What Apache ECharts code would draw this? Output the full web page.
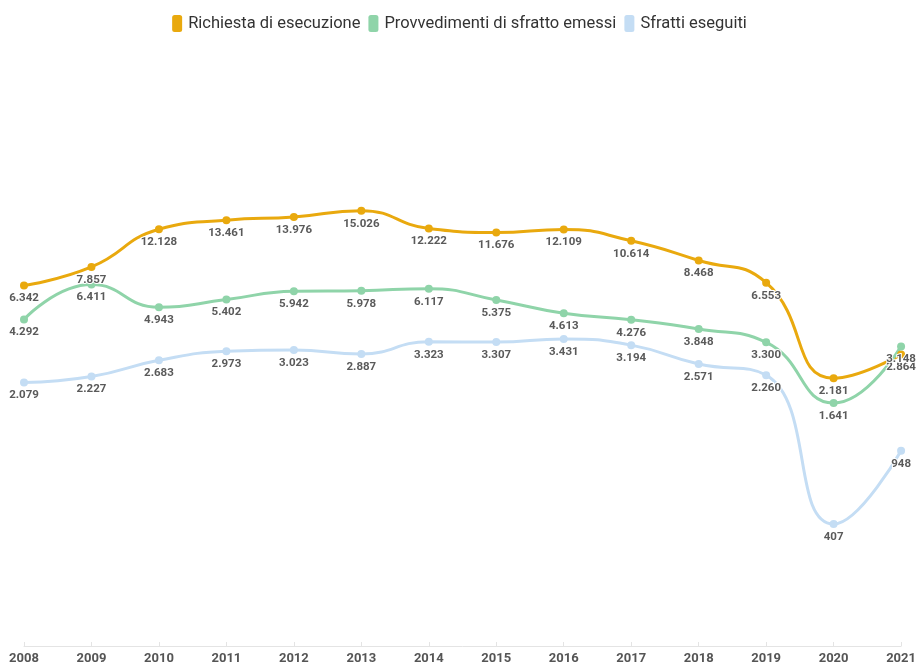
<!DOCTYPE html>
<html>
<head>
<meta charset="utf-8">
<script src="https://cdn.jsdelivr.net/npm/echarts@6/dist/echarts.min.js"></script>
<style>
  html, body { margin: 0; padding: 0; background: #fff; }
  #chart { width: 919px; height: 666px; }
</style>
</head>
<body>
<div id="chart"></div>
<script>
// Sfratti in Italia, 2008–2021
const years = ['2008','2009','2010','2011','2012','2013','2014','2015','2016','2017','2018','2019','2020','2021'];
const richiesta = [6342, 7857, 12128, 13461, 13976, 15026, 12222, 11676, 12109, 10614, 8468, 6553, 2181, 2864];
const provvedimenti = [4292, 6411, 4943, 5402, 5942, 5978, 6117, 5375, 4613, 4276, 3848, 3300, 1641, 3148];
const eseguiti = [2079, 2227, 2683, 2973, 3023, 2887, 3323, 3307, 3431, 3194, 2571, 2260, 407, 948];

const seriesNames = ['Richiesta di esecuzione', 'Provvedimenti di sfratto emessi', 'Sfratti eseguiti'];
const colors = ['#E9A90E', '#8FD4A9', '#C4DDF4'];

const fmt = v => v.toLocaleString('it-IT');

function makeSeries(name, data, color) {
  return {
    name: name,
    type: 'line',
    data: data,
    smooth: true,
    symbol: 'circle',
    symbolSize: 8,
    lineStyle: { width: 3, color: color },
    itemStyle: { color: color },
    label: {
      show: true,
      position: 'bottom',
      distance: 3,
      formatter: p => fmt(p.value),
      fontFamily: 'Roboto',
      fontWeight: 'bold',
      fontSize: 11.5,
      color: '#5a5a5a',
      textBorderColor: '#fff',
      textBorderWidth: 2
    }
  };
}

const chart = echarts.init(document.getElementById('chart'));
chart.setOption({
  animation: false,
  color: colors,
  legend: {
    top: 10,
    left: 'center',
    icon: 'roundRect',
    itemWidth: 10,
    itemHeight: 17,
    itemGap: 8,
    textStyle: { fontFamily: 'Roboto', fontSize: 16.5, color: '#333', padding: [0, 0, 0, 1] },
    data: seriesNames
  },
  grid: { left: 24, right: 16, top: 46, bottom: 20, containLabel: false },
  xAxis: {
    type: 'category',
    data: years,
    boundaryGap: false,
    axisLine: { lineStyle: { color: '#e4e4e4' } },
    axisTick: { show: true, inside: true, length: 4, lineStyle: { color: '#e4e4e4' } },
    axisLabel: { fontFamily: 'Roboto', fontWeight: 'bold', fontSize: 13, color: '#555', margin: 6 }
  },
  yAxis: {
    type: 'log',
    logBase: 10,
    min: 100,
    max: 100000,
    show: false,
    splitLine: { show: false }
  },
  series: [
    makeSeries(seriesNames[0], richiesta, colors[0]),
    makeSeries(seriesNames[1], provvedimenti, colors[1]),
    makeSeries(seriesNames[2], eseguiti, colors[2])
  ]
});
</script>
</body>
</html>
